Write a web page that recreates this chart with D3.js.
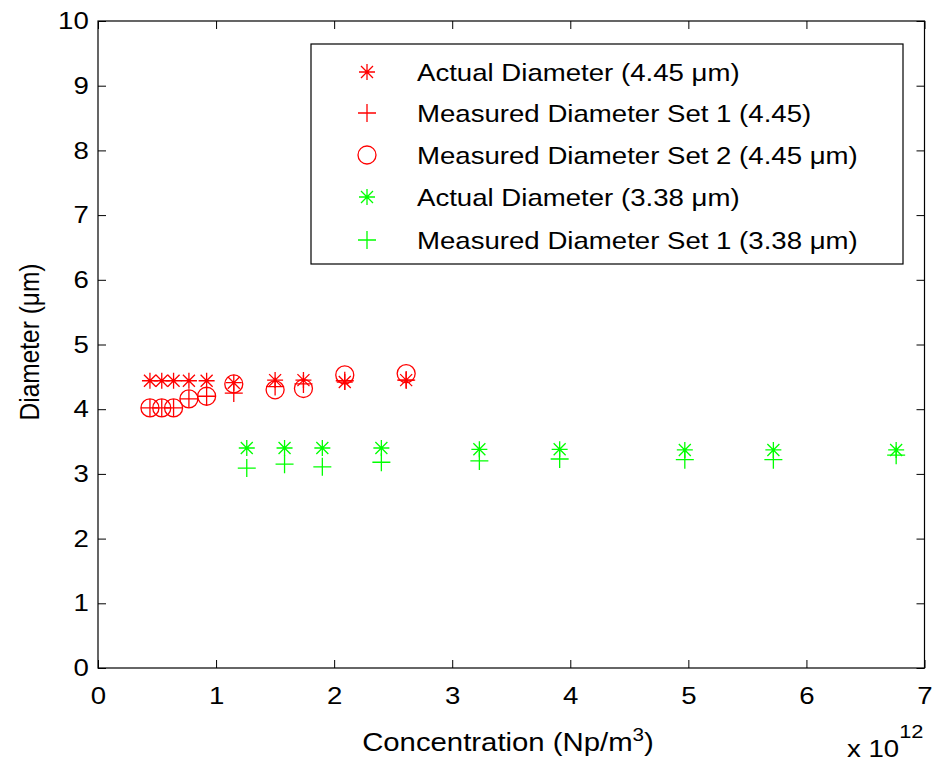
<!DOCTYPE html>
<html><head><meta charset="utf-8">
<script src="https://cdn.jsdelivr.net/npm/d3@7"></script>
<style>body{margin:0;background:#fff}svg{display:block}</style></head>
<body><script>
const xTicks=[0,1,2,3,4,5,6,7];
const yTicks=[0,1,2,3,4,5,6,7,8,9,10];
const redX=[0.44,0.54,0.64,0.77,0.92,1.15,1.50,1.74,2.09,2.61];
const redActual=[4.44,4.44,4.44,4.44,4.44,4.41,4.45,4.45,4.42,4.45];
const redSet1=[4.02,4.02,4.02,4.16,4.20,4.25,4.35,4.39,4.44,4.45];
const redSet2=[4.02,4.02,4.02,4.16,4.20,4.39,4.30,4.32,4.53,4.55];
const greenX=[1.26,1.58,1.90,2.40,3.23,3.91,4.97,5.72,6.76];
const greenActual=[3.40,3.40,3.40,3.40,3.38,3.38,3.37,3.37,3.37];
const greenSet1=[3.09,3.15,3.11,3.18,3.20,3.23,3.22,3.22,3.29];
const legendLabels=["Actual Diameter (4.45 μm)","Measured Diameter Set 1 (4.45)","Measured Diameter Set 2 (4.45 μm)","Actual Diameter (3.38 μm)","Measured Diameter Set 1 (3.38 μm)"];
const legendMarkers=["asterisk","plus","circle","asterisk","plus"];
const legendColors=["#ff0000","#ff0000","#ff0000","#00ff00","#00ff00"];

const W=935,H=765,SX=1.15;
const svg=d3.select("body").append("svg").attr("width",W).attr("height",H);
const FONT="'Liberation Sans', Arial, sans-serif";
const x=d3.scaleLinear().domain([0,7]).range([98,924.5]);
const y=d3.scaleLinear().domain([0,10]).range([668,21]);

function markerPath(type,cx,cy){
  const p=d3.path();
  if(type==="asterisk"){
    const r=8,d=6;
    p.moveTo(cx-r,cy);p.lineTo(cx+r,cy);
    p.moveTo(cx,cy-r);p.lineTo(cx,cy+r);
    p.moveTo(cx-d,cy-d);p.lineTo(cx+d,cy+d);
    p.moveTo(cx-d,cy+d);p.lineTo(cx+d,cy-d);
  } else if(type==="plus"){
    const r=9;
    p.moveTo(cx-r,cy);p.lineTo(cx+r,cy);
    p.moveTo(cx,cy-r);p.lineTo(cx,cy+r);
  } else {
    const r=9;
    p.moveTo(cx+r,cy);p.arc(cx,cy,r,0,2*Math.PI);
  }
  return p.toString();
}

// axes frame
const g=svg.append("g");
g.append("rect").attr("x",x(0)).attr("y",y(10)).attr("width",x(7)-x(0)).attr("height",y(0)-y(10))
 .attr("fill","none").attr("stroke","#000").attr("stroke-width",1.2);

const xAxis=d3.axisBottom(x).tickValues(xTicks).tickSize(-8).tickPadding(19).tickFormat(d3.format("d"));
const yAxis=d3.axisLeft(y).tickValues(yTicks).tickSize(-8).tickPadding(8).tickFormat(d3.format("d"));
const xa=g.append("g").attr("transform",`translate(0,${y(0)})`).call(xAxis);
const ya=g.append("g").attr("transform",`translate(${x(0)},0)`).call(yAxis);
const xt=g.append("g").attr("transform",`translate(0,${y(10)})`).call(d3.axisTop(x).tickValues(xTicks).tickSize(-8).tickFormat(""));
const yr=g.append("g").attr("transform",`translate(${x(7)},0)`).call(d3.axisRight(y).tickValues(yTicks).tickSize(-8).tickFormat(""));
[xa,ya,xt,yr].forEach(a=>{a.select(".domain").remove();a.selectAll("line").attr("stroke","#000");});
[xa,ya].forEach(a=>a.selectAll("text").attr("font-family",FONT).attr("font-size",24).attr("fill","#000")
  .attr("transform",`scale(${SX},1)`));

// axis labels
const xl=svg.append("g").attr("transform",`translate(508,751) scale(${SX},1)`)
 .append("text").attr("text-anchor","middle")
 .attr("font-family",FONT).attr("font-size",25.5).attr("fill","#000");
xl.append("tspan").text("Concentration (Np/m");
xl.append("tspan").attr("dy",-10).attr("font-size",18).text("3");
xl.append("tspan").attr("dy",10).text(")");
svg.append("text").attr("transform",`translate(39,342) scale(${SX},1) rotate(-90)`).attr("text-anchor","middle")
 .attr("font-family",FONT).attr("font-size",24.5).attr("fill","#000").text("Diameter (μm)");
const ex=svg.append("g").attr("transform",`translate(847,757) scale(${SX},1)`)
 .append("text").attr("font-family",FONT).attr("font-size",24).attr("fill","#000");
ex.append("tspan").text("x 10");
ex.append("tspan").attr("dy",-19).attr("font-size",19).text("12");

// data
const series=[
 {xs:redX,ys:redActual,type:"asterisk",color:"#ff0000"},
 {xs:redX,ys:redSet1,type:"plus",color:"#ff0000"},
 {xs:redX,ys:redSet2,type:"circle",color:"#ff0000"},
 {xs:greenX,ys:greenActual,type:"asterisk",color:"#00ff00"},
 {xs:greenX,ys:greenSet1,type:"plus",color:"#00ff00"}
];
series.forEach(s=>{
  svg.append("g").selectAll("path").data(s.xs.map((v,i)=>[v,s.ys[i]])).join("path")
   .attr("d",d=>markerPath(s.type,x(d[0]),y(d[1])))
   .attr("fill","none").attr("stroke",s.color).attr("stroke-width",1.3);
});

// legend
const lg=svg.append("g");
lg.append("rect").attr("x",311).attr("y",44).attr("width",592).attr("height",220)
 .attr("fill","#fff").attr("stroke","#000").attr("stroke-width",1.2);
const rowY=[72,113,155,197,240];
legendLabels.forEach((t,i)=>{
  lg.append("path").attr("d",markerPath(legendMarkers[i],367,rowY[i]))
   .attr("fill","none").attr("stroke",legendColors[i]).attr("stroke-width",1.3);
  lg.append("g").attr("transform",`translate(417,${rowY[i]+9}) scale(${SX},1)`)
   .append("text").attr("font-family",FONT)
   .attr("font-size",24).attr("fill","#000").text(t);
});
</script></body></html>
